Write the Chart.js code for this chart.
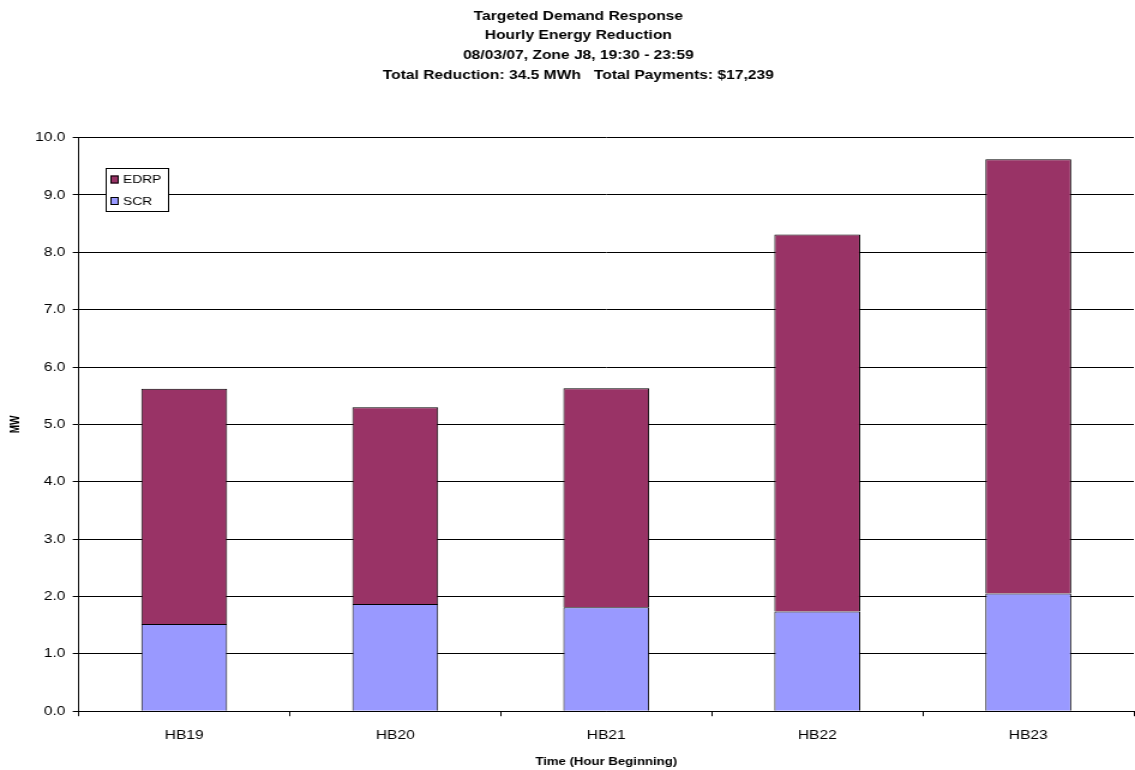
<!DOCTYPE html>
<html>
<head>
<meta charset="utf-8">
<script src="https://cdn.jsdelivr.net/npm/chart.js@4/dist/chart.umd.min.js"></script>
<style>
  html, body { margin: 0; padding: 0; background: #fff; overflow: hidden; }
  /* the chart is laid out at 946px and widened to the full 1135px page */
  #wrap { width: 946px; height: 770px; transform: scaleX(1.19979); transform-origin: 0 0; }
  #c { display: block; }
</style>
</head>
<body>
<div id="wrap"><canvas id="c" width="946" height="770" style="width:946px;height:770px"></canvas></div>
<script>
const categories = ['HB19', 'HB20', 'HB21', 'HB22', 'HB23'];
const scrValues  = [1.52, 1.87, 1.81, 1.74, 2.05];
const edrpValues = [4.10, 3.43, 3.82, 6.57, 7.57];
const titleLines = [
  'Targeted Demand Response',
  'Hourly Energy Reduction',
  '08/03/07, Zone J8, 19:30 - 23:59',
  'Total Reduction: 34.5 MWh   Total Payments: $17,239'
];
const yTicks = [0, 1, 2, 3, 4, 5, 6, 7, 8, 9, 10];

const FONT = 'Arial, "Liberation Sans", sans-serif';

// Boxed legend in the upper-left of the plot area, EDRP listed first
const boxLegend = {
  id: 'boxLegend',
  afterDraw(chart) {
    const ctx = chart.ctx;
    const x = 88, y = 168, w = 52, h = 43;
    ctx.save();
    ctx.fillStyle = '#fff';
    ctx.fillRect(x, y, w, h);
    ctx.strokeStyle = '#000';
    ctx.lineWidth = 1;
    ctx.strokeRect(x + 0.5, y + 0.5, w, h);
    const items = chart.data.datasets.slice().reverse();
    ctx.font = '11.5px ' + FONT;
    ctx.textBaseline = 'middle';
    items.forEach((ds, i) => {
      const cy = y + 11.5 + i * 21.5;
      ctx.fillStyle = ds.backgroundColor;
      ctx.fillRect(x + 4, cy - 4, 7, 8);
      ctx.strokeStyle = '#000';
      ctx.strokeRect(x + 4.5, cy - 3.5, 6, 7);
      ctx.fillStyle = '#000';
      ctx.fillText(ds.label, x + 14.5, cy + 0.5);
    });
    ctx.restore();
  }
};

new Chart(document.getElementById('c'), {
  type: 'bar',
  data: {
    labels: categories,
    datasets: [
      { label: 'SCR',  data: scrValues,  backgroundColor: '#9999FF', borderColor: '#000', borderWidth: 1 },
      { label: 'EDRP', data: edrpValues, backgroundColor: '#993366', borderColor: '#000', borderWidth: 1 }
    ]
  },
  options: {
    responsive: false,
    animation: false,
    devicePixelRatio: 1,
    layout: { padding: { left: 19, right: 1, top: 0, bottom: 1 } },
    datasets: { bar: { categoryPercentage: 1.0, barPercentage: 0.407 } },
    plugins: {
      legend: { display: false },
      tooltip: { enabled: false },
      title: {
        display: true,
        text: titleLines,
        color: '#000',
        font: { family: FONT, size: 13, weight: 'bold', lineHeight: 1.53 },
        padding: { top: 6, bottom: 52 }
      }
    },
    scales: {
      x: {
        stacked: true,
        offset: true,
        grid: { offset: true, drawOnChartArea: false, drawTicks: true, tickLength: 5, color: '#000' },
        border: { color: '#000', width: 1 },
        ticks: { color: '#000', font: { family: FONT, size: 13 }, padding: 11 },
        title: { display: true, text: 'Time (Hour Beginning)', color: '#000',
                 font: { family: FONT, size: 11, weight: 'bold' }, padding: { top: 2, bottom: 0 } }
      },
      y: {
        stacked: true,
        min: 0, max: 10,
        afterBuildTicks(axis) { axis.ticks = yTicks.map(v => ({ value: v })); },
        grid: { color: '#000', lineWidth: 1, drawTicks: true, tickLength: 5 },
        border: { color: '#000', width: 1 },
        ticks: { color: '#000', font: { family: FONT, size: 13 }, padding: 6,
                 callback: v => Number(v).toFixed(1) },
        title: { display: true, text: 'MW', color: '#000',
                 font: { family: FONT, size: 10, weight: 'bold' }, padding: { top: -12.1, bottom: 4.4 } }
      }
    }
  },
  plugins: [boxLegend]
});
</script>
</body>
</html>
